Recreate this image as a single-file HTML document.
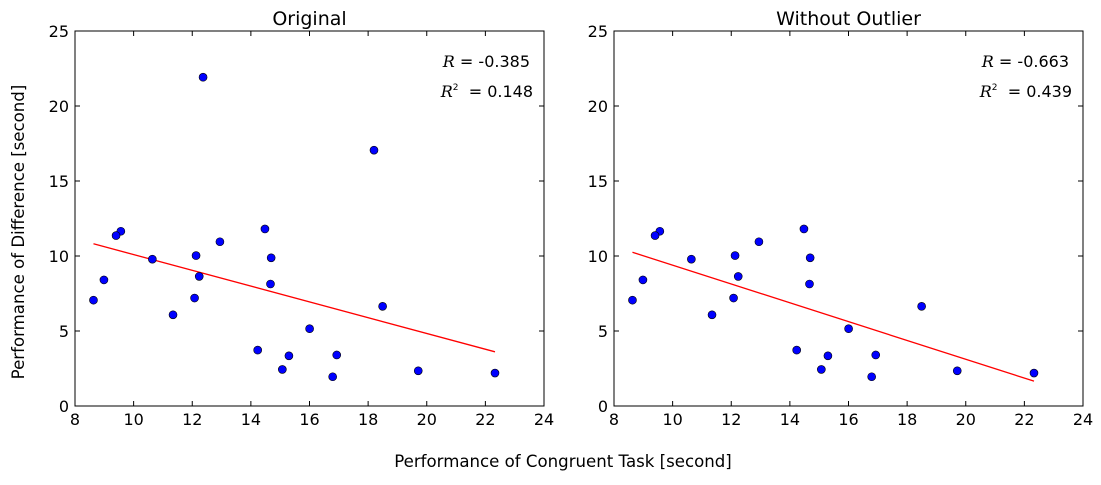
<!DOCTYPE html>
<html><head><meta charset="utf-8"><style>
body{margin:0;background:#fff;width:1101px;height:480px;overflow:hidden}
svg{font-family:"DejaVu Sans","Liberation Sans",sans-serif}
</style></head><body>
<svg id="chart" width="1101" height="480" xmlns="http://www.w3.org/2000/svg">
<text x="563" y="467" font-size="16.6" text-anchor="middle">Performance of Congruent Task [second]</text>
<text transform="translate(24,232) rotate(-90)" font-size="16.6" text-anchor="middle">Performance of Difference [second]</text>
</svg>
<script>
const congruent = [12.079,16.791,9.564,8.63,14.669,12.238,14.692,8.987,9.401,14.48,22.328,15.298,15.073,16.929,18.2,12.13,18.495,10.639,11.344,12.369,12.944,14.233,19.71,16.004];
const difference = [7.199,1.95,11.65,7.057,8.134,8.64,9.88,8.407,11.361,11.802,2.196,3.346,2.437,3.401,17.055,10.028,6.644,9.79,6.081,21.919,10.95,3.727,2.348,5.153];
const outlierIdx = [14,19];
const xTicks = [8,10,12,14,16,18,20,22,24];
const yTicks = [0,5,10,15,20,25];
const panelTitles = ["Original","Without Outlier"];
const rValues = ["-0.385","-0.663"];
const r2Values = ["0.148","0.439"];

const NS="http://www.w3.org/2000/svg";
const svg=document.getElementById('chart');
function mk(tag,attrs,parent){const e=document.createElementNS(NS,tag);for(const k in attrs)e.setAttribute(k,attrs[k]);(parent||svg).appendChild(e);return e;}
const panels=[{x0:75,x1:544},{x0:614,x1:1083}];
const yTop=31,yBot=406;
panels.forEach((p,pi)=>{
  const g=mk('g',{});
  
  
  const sx=v=>p.x0+(v-8)/16*(p.x1-p.x0);
  const sy=v=>yBot-(v/25)*(yBot-yTop);
  const xs=[],ys=[];
  congruent.forEach((c,i)=>{if(pi===1&&outlierIdx.includes(i))return;xs.push(c);ys.push(difference[i]);});
  const n=xs.length,mx=xs.reduce((a,b)=>a+b)/n,my=ys.reduce((a,b)=>a+b)/n;
  let sxy=0,sxx=0;xs.forEach((x,i)=>{sxy+=(x-mx)*(ys[i]-my);sxx+=(x-mx)**2;});
  const b=sxy/sxx,a=my-b*mx;
  const xmin=Math.min(...xs),xmax=Math.max(...xs);
  const ln=mk('line',{x1:sx(xmin),y1:sy(a+b*xmin),x2:sx(xmax),y2:sy(a+b*xmax),stroke:'#ff0000','stroke-width':1.3},g);
  
  
  xs.forEach((x,i)=>{
    const c=mk('circle',{cx:sx(x),cy:sy(ys[i]),r:4,fill:'#0000ff',stroke:'#000','stroke-width':0.6},g);
    
    
  });
  const fr=mk('rect',{x:p.x0,y:yTop,width:p.x1-p.x0,height:yBot-yTop,fill:'none',stroke:'#000','stroke-width':1},g);
  
  
  xTicks.forEach(t=>{
    const X=sx(t);
    mk('line',{x1:X,y1:yBot,x2:X,y2:yBot-5,stroke:'#000'},g);
    mk('line',{x1:X,y1:yTop,x2:X,y2:yTop+5,stroke:'#000'},g);
    const tx=mk('text',{x:X,y:yBot+19,'font-size':16,'text-anchor':'middle'},g);tx.textContent=t;
    
    
  });
  yTicks.forEach(t=>{
    const Y=sy(t);
    mk('line',{x1:p.x0,y1:Y,x2:p.x0+5,y2:Y,stroke:'#000'},g);
    mk('line',{x1:p.x1,y1:Y,x2:p.x1-5,y2:Y,stroke:'#000'},g);
    const tx=mk('text',{x:p.x0-6,y:Y+6,'font-size':16,'text-anchor':'end'},g);tx.textContent=t;
    
    
  });
  const ti=mk('text',{x:(p.x0+p.x1)/2,y:25,'font-size':19,'text-anchor':'middle'},g);ti.textContent=panelTitles[pi];
  
  
  const r=mk('text',{x:p.x1-14,y:67,'font-size':16,'text-anchor':'end'},g);
  r.innerHTML='<tspan font-family="DejaVu Serif,serif" font-style="italic">R</tspan> = '+rValues[pi];
  
  
  const r2=mk('text',{x:p.x1-11,y:97,'font-size':16,'text-anchor':'end'},g);
  r2.innerHTML='<tspan font-family="DejaVu Serif,serif" font-style="italic">R</tspan><tspan font-size="9" dy="-7">2</tspan><tspan dy="7" xml:space="preserve">  = '+r2Values[pi]+'</tspan>';
  
  
});
</script>
</body></html>
